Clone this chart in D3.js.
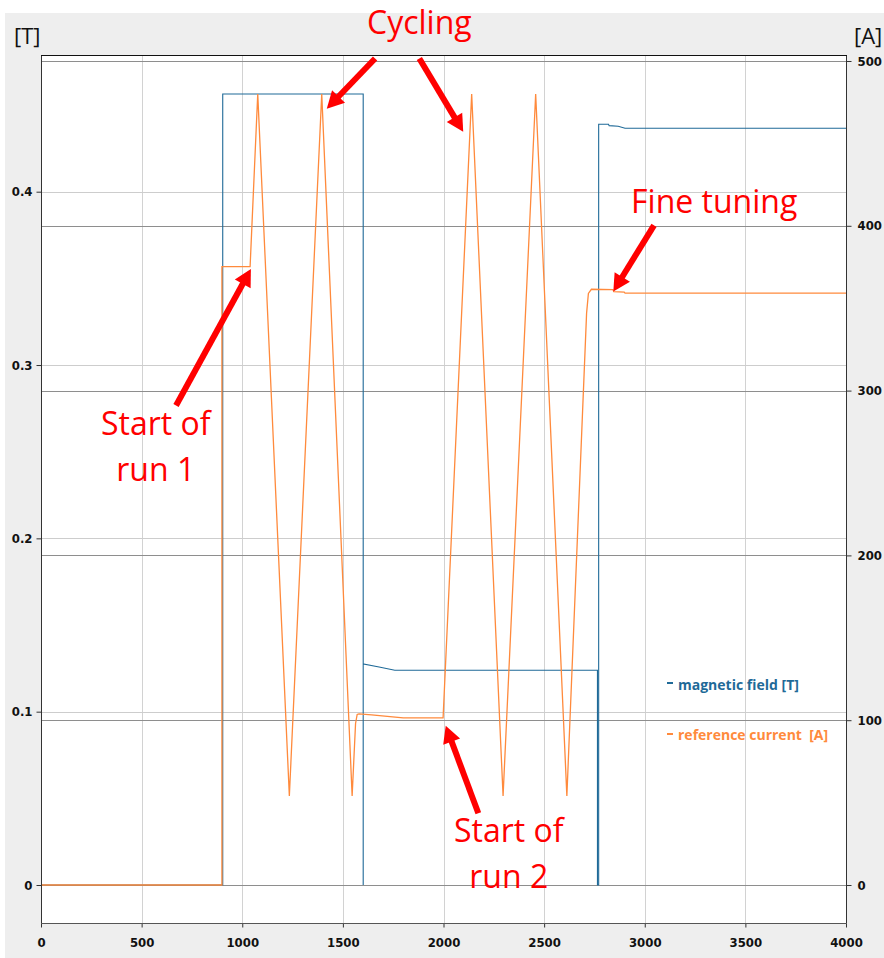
<!DOCTYPE html>
<html>
<head>
<meta charset="utf-8">
<script src="https://cdn.jsdelivr.net/npm/d3@7/dist/d3.min.js"></script>
<style>
  html, body { margin: 0; padding: 0; background: #ffffff; }
  svg { display: block; }
  .tick text { font-family: "DejaVu Sans Condensed", "DejaVu Sans", sans-serif; font-stretch: condensed; font-weight: bold; font-size: 13px; fill: #111; }
</style>
</head>
<body>
<svg id="chart" width="884" height="958"></svg>
<script>
// ---- data -------------------------------------------------------------
const timeTicks    = [0, 500, 1000, 1500, 2000, 2500, 3000, 3500, 4000];
const fieldTicks   = [0, 0.1, 0.2, 0.3, 0.4];
const currentTicks = [0, 100, 200, 300, 400, 500];

// magnetic field [T] (left axis)
const fieldTime   = [0, 903, 903, 1601, 1601, 1601, 1680, 1758, 2765, 2765, 2771, 2771, 2820, 2823, 2868, 2902, 4000];
const fieldValues = [0, 0, 0.4564, 0.4564, 0, 0.1275, 0.1258, 0.1239, 0.1239, 0, 0, 0.4389, 0.4389, 0.4381, 0.4378, 0.4366, 0.4366];

// reference current [A] (right axis)
const currentTime   = [0, 899, 899, 1039, 1077, 1234, 1395, 1546, 1563, 1571, 1580, 1643, 1734, 1800, 1998, 2140, 2296, 2458, 2613, 2711, 2720, 2735, 2842, 2846, 2898, 2902, 4000];
const currentValues = [0, 0, 375.2, 375.2, 480, 54, 480, 54, 98, 103.5, 103.8, 103.2, 102.2, 101.4, 101.4, 480, 54, 480, 54, 347, 359, 361.5, 361.3, 360.0, 359.8, 359.2, 359.2];

const seriesNames  = ["magnetic field [T]", "reference current  [A]"];
const seriesColors = ["#1f6a98", "#ff8a3c"];

// annotation arrows, in (time, current) units: tail -> tip
const arrowTails = [[1660, 501.5], [1880, 501.5], [671, 291], [2173, 43.5], [3046, 400.3]];
const arrowTips  = [[1420, 471], [2098, 457], [1043, 373.8], [2011, 96.7], [2844, 360.2]];

// annotation captions: text lines anchored at (time, current) of the first baseline
const noteLines  = [["Cycling"], ["Start of", "run 1"], ["Start of", "run 2"], ["Fine tuning"]];
const noteAnchor = [[1880, 516.5], [570, 273], [2324, 26], [3345, 407.7]];

// ---- layout -----------------------------------------------------------
const svg = d3.select("#chart");
const plot = { left: 41, right: 847, top: 55, bottom: 924 };

const x  = d3.scaleLinear().domain([0, 4000]).range([41, 846]);
const yL = d3.scaleLinear().domain([0, 0.4]).range([885, 191.7]);
const yR = d3.scaleLinear().domain([0, 500]).range([885, 61]);

const crisp = v => Math.round(v) + 0.5;

// figure background and plot area
svg.append("rect").attr("x", 5).attr("y", 13).attr("width", 879).attr("height", 945).attr("fill", "#eeeeee");
svg.append("rect").attr("x", plot.left).attr("y", plot.top)
  .attr("width", plot.right - plot.left).attr("height", plot.bottom - plot.top).attr("fill", "#ffffff");

svg.append("defs").append("clipPath").attr("id", "plotClip")
  .append("rect").attr("x", plot.left).attr("y", plot.top)
  .attr("width", plot.right - plot.left).attr("height", plot.bottom - plot.top);

// grid
const grid = svg.append("g").attr("shape-rendering", "crispEdges");
grid.selectAll("line.vgrid").data(timeTicks).join("line").attr("class", "vgrid")
  .attr("x1", d => crisp(x(d))).attr("x2", d => crisp(x(d)))
  .attr("y1", plot.top).attr("y2", plot.bottom)
  .attr("stroke", "#d2d2d2").attr("stroke-width", 1);
grid.selectAll("line.lgrid").data(fieldTicks.filter(d => d > 0)).join("line").attr("class", "lgrid")
  .attr("x1", plot.left).attr("x2", plot.right)
  .attr("y1", d => crisp(yL(d))).attr("y2", d => crisp(yL(d)))
  .attr("stroke", "#cdcdcd").attr("stroke-width", 1);
grid.selectAll("line.rgrid").data(currentTicks).join("line").attr("class", "rgrid")
  .attr("x1", plot.left).attr("x2", plot.right)
  .attr("y1", d => crisp(yR(d))).attr("y2", d => crisp(yR(d)))
  .attr("stroke", "#8e8e8e").attr("stroke-width", 1);

// series
const lines = svg.append("g").attr("clip-path", "url(#plotClip)");
const fieldPts   = fieldTime.map((t, i) => [t, fieldValues[i]]);
const currentPts = currentTime.map((t, i) => [t, currentValues[i]]);

lines.append("path").datum(fieldPts)
  .attr("d", d3.line().x(d => x(d[0])).y(d => yL(d[1])))
  .attr("fill", "none").attr("stroke", seriesColors[0]).attr("stroke-width", 1.1);
lines.append("path").datum(currentPts)
  .attr("d", d3.line().x(d => x(d[0])).y(d => yR(d[1])))
  .attr("fill", "none").attr("stroke", seriesColors[1]).attr("stroke-width", 1.3);

// axes
const axL = svg.append("g").attr("transform", `translate(${plot.left + 0.5},0)`)
  .call(d3.axisLeft(yL).tickValues(fieldTicks).tickSize(5).tickPadding(4)
    .tickFormat(d => d === 0 ? "0" : d3.format(".1f")(d)));
const axR = svg.append("g").attr("transform", `translate(${plot.right - 0.5},0)`)
  .call(d3.axisRight(yR).tickValues(currentTicks).tickSize(5).tickPadding(6).tickFormat(d3.format("d")));
const axB = svg.append("g").attr("transform", `translate(0,${plot.bottom - 0.5})`)
  .call(d3.axisBottom(x).tickValues(timeTicks).tickSize(4).tickPadding(10).tickFormat(d3.format("d")));
[axL, axR, axB].forEach(a => {
  a.select(".domain").remove();
  a.selectAll(".tick line").attr("stroke", "#333");
});

// frame
const frame = svg.append("g").attr("shape-rendering", "crispEdges");
frame.append("line").attr("x1", plot.left + 0.5).attr("x2", plot.left + 0.5).attr("y1", plot.top).attr("y2", plot.bottom).attr("stroke", "#333");
frame.append("line").attr("x1", plot.right - 0.5).attr("x2", plot.right - 0.5).attr("y1", plot.top).attr("y2", plot.bottom).attr("stroke", "#333");
frame.append("line").attr("x1", plot.left).attr("x2", plot.right).attr("y1", plot.top + 0.5).attr("y2", plot.top + 0.5).attr("stroke", "#111");
frame.append("line").attr("x1", plot.left).attr("x2", plot.right).attr("y1", plot.bottom - 0.5).attr("y2", plot.bottom - 0.5).attr("stroke", "#555");

// unit labels
const unitFont = '"Open Sans", "Noto Sans", sans-serif';
svg.append("text").attr("x", 14).attr("y", 44).text("[T]")
  .attr("font-family", unitFont).attr("font-size", 22).attr("fill", "#111");
svg.append("text").attr("x", 854).attr("y", 44).text("[A]")
  .attr("font-family", unitFont).attr("font-size", 22).attr("fill", "#111");

// legend
const legend = svg.append("g");
[[683, 690], [734, 740]].forEach(([dashY, baseY], i) => {
  legend.append("rect").attr("x", 667).attr("y", dashY - 1).attr("width", 6).attr("height", 2).attr("fill", seriesColors[i]);
  legend.append("text").attr("x", 678).attr("y", baseY).text(seriesNames[i])
    .attr("font-family", unitFont).attr("font-weight", "bold").attr("font-size", 14)
    .style("white-space", "pre").attr("fill", seriesColors[i]);
});

// annotations
const notes = svg.append("g");
arrowTails.forEach((tail, i) => {
  const x0 = x(tail[0]), y0 = yR(tail[1]);
  const x1 = x(arrowTips[i][0]), y1 = yR(arrowTips[i][1]);
  const len = Math.hypot(x1 - x0, y1 - y0);
  const ux = (x1 - x0) / len, uy = (y1 - y0) / len;
  const headLen = 17, headHalf = 9;
  const bx = x1 - ux * headLen, by = y1 - uy * headLen;
  notes.append("line").attr("x1", x0).attr("y1", y0).attr("x2", bx + ux * 1).attr("y2", by + uy * 1)
    .attr("stroke", "#ff0000").attr("stroke-width", 6);
  notes.append("path")
    .attr("d", `M${x1},${y1}L${bx - uy * headHalf},${by + ux * headHalf}L${bx + uy * headHalf},${by - ux * headHalf}Z`)
    .attr("fill", "#ff0000");
});
noteLines.forEach((linesTxt, i) => {
  const t = notes.append("text")
    .attr("x", x(noteAnchor[i][0])).attr("y", yR(noteAnchor[i][1]))
    .attr("text-anchor", "middle")
    .attr("font-family", unitFont).attr("font-size", 32).attr("fill", "#ff0000");
  linesTxt.forEach((s, k) => {
    t.append("tspan").attr("x", x(noteAnchor[i][0])).attr("dy", k === 0 ? 0 : 46).text(s);
  });
});
</script>
</body>
</html>
